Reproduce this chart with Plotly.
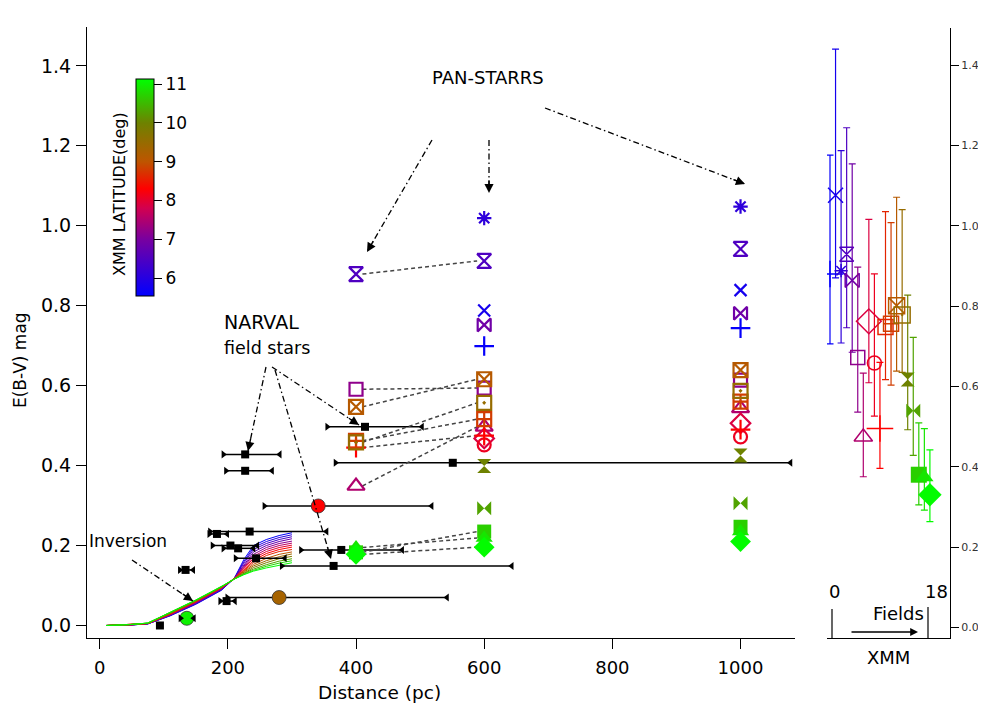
import plotly.graph_objects as go

# The page body adds an 8 px margin; the figure is sized and placed to fill the 986x707 window.
VIEW_W, VIEW_H = 986, 707
OFF = 8
FW, FH = VIEW_W - OFF, VIEW_H - OFF

# ---------------- data ----------------
# 3D-map reddening curves: distance grid (pc) and E(B-V) per XMM-field latitude (deg)
curve_dist = [10, 45, 75, 110, 150, 190, 210, 225, 240, 260, 280, 300]
curve_lat = [5.6, 6.0, 6.4, 6.8, 7.2, 7.6, 8.0, 8.3, 8.6, 9.0, 9.4, 9.8, 10.3, 10.8, 11.1]
ebv_lat56 = [0.000, 0.001, 0.004, 0.024, 0.053, 0.088, 0.118, 0.165, 0.200, 0.215, 0.225, 0.232]
ebv_lat60 = [0.000, 0.001, 0.004, 0.025, 0.054, 0.089, 0.118, 0.160, 0.195, 0.210, 0.220, 0.227]
ebv_lat64 = [0.000, 0.001, 0.004, 0.025, 0.055, 0.090, 0.118, 0.156, 0.190, 0.205, 0.215, 0.222]
ebv_lat68 = [0.000, 0.001, 0.004, 0.026, 0.056, 0.091, 0.118, 0.152, 0.184, 0.200, 0.210, 0.217]
ebv_lat72 = [0.000, 0.001, 0.005, 0.027, 0.057, 0.092, 0.118, 0.148, 0.178, 0.195, 0.205, 0.211]
ebv_lat76 = [0.000, 0.001, 0.005, 0.027, 0.058, 0.093, 0.117, 0.145, 0.173, 0.190, 0.200, 0.206]
ebv_lat80 = [0.000, 0.001, 0.005, 0.028, 0.059, 0.094, 0.117, 0.142, 0.168, 0.185, 0.195, 0.201]
ebv_lat83 = [0.000, 0.002, 0.005, 0.029, 0.060, 0.094, 0.117, 0.139, 0.163, 0.180, 0.190, 0.196]
ebv_lat86 = [0.000, 0.002, 0.005, 0.029, 0.060, 0.095, 0.117, 0.137, 0.158, 0.175, 0.185, 0.190]
ebv_lat90 = [0.000, 0.002, 0.005, 0.030, 0.061, 0.095, 0.117, 0.135, 0.153, 0.168, 0.178, 0.184]
ebv_lat94 = [0.000, 0.002, 0.005, 0.030, 0.061, 0.096, 0.117, 0.133, 0.149, 0.162, 0.172, 0.179]
ebv_lat98 = [0.000, 0.002, 0.006, 0.031, 0.062, 0.096, 0.116, 0.131, 0.145, 0.157, 0.167, 0.173]
ebv_lat103 = [0.000, 0.002, 0.006, 0.032, 0.063, 0.097, 0.116, 0.130, 0.141, 0.152, 0.161, 0.167]
ebv_lat108 = [0.000, 0.002, 0.006, 0.032, 0.063, 0.097, 0.116, 0.128, 0.138, 0.148, 0.156, 0.162]
ebv_lat111 = [0.000, 0.002, 0.006, 0.033, 0.064, 0.098, 0.116, 0.127, 0.136, 0.144, 0.150, 0.157]
curves = [ebv_lat56, ebv_lat60, ebv_lat64, ebv_lat68, ebv_lat72, ebv_lat76, ebv_lat80, ebv_lat83,
          ebv_lat86, ebv_lat90, ebv_lat94, ebv_lat98, ebv_lat103, ebv_lat108, ebv_lat111]

# NARVAL field stars (black)
narval_dist = [94, 134, 183, 198, 204, 216, 227, 227, 234, 244, 365, 377, 414, 551]
narval_ebv = [0.000, 0.139, 0.229, 0.061, 0.200, 0.193, 0.428, 0.387, 0.235, 0.168, 0.149, 0.189, 0.497, 0.407]
narval_err_minus = [0, 9, 12, 10, 28, 23, 34, 30, 62, 32, 81, 63, 59, 183]
narval_err_plus = [0, 12, 16, 13, 42, 24, 54, 42, 120, 45, 278, 95, 89, 527]

# coloured stars (latitude coded)
star_dist = [136, 280, 341]
star_ebv = [0.018, 0.070, 0.299]
star_lat = [11.0, 9.3, 8.3]
star_err_minus = [10, 81, 84]
star_err_plus = [11, 262, 177]

# XMM fields 0..18: latitude, PAN-STARRS E(B-V) at 400/600/1000 pc, XMM E(B-V) with errors
field_index = list(range(19))
field_lat = [5.6, 5.8, 6.1, 6.5, 6.9, 7.2, 7.5, 7.9, 8.1, 8.3, 8.6, 8.8, 9.1, 9.5, 10.0, 10.3, 10.7, 10.9, 11.1]
ebv_400 = [None, None, None, 0.879, None, 0.591, 0.349, None, None, 0.445, None, 0.462, 0.547, 0.458,
           None, None, 0.183, 0.195, 0.178]
ebv_600 = [0.699, 0.788, 1.019, 0.912, 0.752, 0.594, 0.497, 0.468, 0.452, 0.475, None, 0.516, 0.616, 0.557,
           0.399, 0.293, 0.235, 0.219, 0.196]
ebv_1000 = [0.744, 0.839, 1.048, 0.942, 0.781, 0.614, 0.543, 0.506, 0.472, 0.490, None, 0.560, 0.639, 0.587,
            0.425, 0.306, 0.247, 0.235, 0.210]
xmm_ebv = [0.880, 1.076, 0.888, 0.929, 0.864, 0.672, 0.474, 0.762, 0.658, 0.495, 0.748, 0.756, 0.801, 0.778,
           0.617, 0.539, 0.380, 0.374, 0.330]
xmm_hi = [1.176, 1.440, 1.187, 1.244, 1.154, 0.897, 0.633, 1.016, 0.880, 0.660, 1.035, 1.008, 1.071, 1.040,
          0.827, 0.722, 0.509, 0.495, 0.442]
xmm_lo = [0.706, 0.870, 0.708, 0.746, 0.685, 0.536, 0.375, 0.609, 0.526, 0.396, 0.617, 0.603, 0.638, 0.635,
          0.492, 0.428, 0.305, 0.292, 0.263]

x_ticks = [0, 200, 400, 600, 800, 1000]
y_ticks = [0.0, 0.2, 0.4, 0.6, 0.8, 1.0, 1.2, 1.4]
y_ticktext = ['0.0', '0.2', '0.4', '0.6', '0.8', '1.0', '1.2', '1.4']
cbar_ticks = [6, 7, 8, 9, 10, 11]

# ---------------- styles ----------------
field_symbol = ['cross-thin-open', 'x-thin-open', 'asterisk-open', 'hourglass-open', 'bowtie-open',
                'square-open', 'triangle-up-open', 'diamond-open', 'circle-open', 'cross-thin-open',
                'square-open', 'square-cross-open', 'square-x-open', 'square-open-dot', 'hourglass',
                'bowtie', 'square', 'triangle-up', 'diamond']
ps_size = [14, 12, 12, 14, 13, 13, 15, 15, 13, 14, 13, 14, 14, 14, 14, 14, 14, 15, 16]
xmm_size = [19, 15, 11, 14, 14, 14, 16, 19, 14, 19, 15, 15, 16, 16, 14, 14, 16, 16, 18]

LAT_MIN, LAT_MAX = 5.54, 11.13
scale_lats = [5.54, 7.0, 7.8, 8.3, 9.0, 10.0, 11.13]
scale_rgb = [(0, 0, 255), (120, 0, 160), (210, 0, 80), (255, 0, 0), (190, 85, 0), (110, 130, 0), (0, 255, 0)]
colorscale = [[(l - LAT_MIN) / (LAT_MAX - LAT_MIN), 'rgb(%d,%d,%d)' % c] for l, c in zip(scale_lats, scale_rgb)]


def lat_color(lat):
    lat = min(max(lat, scale_lats[0]), scale_lats[-1])
    for i in range(len(scale_lats) - 1):
        a, b = scale_lats[i], scale_lats[i + 1]
        if a <= lat <= b:
            t = (lat - a) / (b - a)
            c = [round(scale_rgb[i][k] + t * (scale_rgb[i + 1][k] - scale_rgb[i][k])) for k in range(3)]
            return 'rgb(%d,%d,%d)' % tuple(c)
    return 'rgb(0,255,0)'


def is_open(sym):
    return 'open' in sym


# window pixel -> paper fraction
def PX(xp):
    return (xp - OFF) / FW


def PY(yp):
    return 1 - (yp - OFF) / FH


def P(xp, yp):
    return PX(xp), PY(yp)


FONT = 'DejaVu Sans'
fig = go.Figure()

# reddening curves (blue first, green on top)
for lat, vals in zip(curve_lat, curves):
    fig.add_trace(go.Scatter(x=curve_dist, y=vals, mode='lines',
                             line=dict(color=lat_color(lat), width=1), hoverinfo='skip',
                             xaxis='x', yaxis='y'))

# NARVAL error bars + squares
fig.add_trace(go.Scatter(
    x=narval_dist, y=narval_ebv, mode='markers',
    marker=dict(symbol='square', size=8, color='black', opacity=1),
    error_x=dict(type='data', symmetric=False, array=narval_err_plus, arrayminus=narval_err_minus,
                 color='black', thickness=1.5, width=0),
    xaxis='x', yaxis='y'))
# coloured stars with black error bars
fig.add_trace(go.Scatter(
    x=star_dist, y=star_ebv, mode='markers',
    marker=dict(symbol='circle', size=14, color=[lat_color(l) for l in star_lat], opacity=1,
                line=dict(color='#333', width=0.8)),
    error_x=dict(type='data', symmetric=False, array=star_err_plus, arrayminus=star_err_minus,
                 color='black', thickness=1.5, width=0),
    xaxis='x', yaxis='y'))

# triangular caps of the horizontal error bars
all_d = narval_dist + star_dist
all_e = narval_ebv + star_ebv
all_m = narval_err_minus + star_err_minus
all_p = narval_err_plus + star_err_plus
fig.add_trace(go.Scatter(x=[d - m for d, m in zip(all_d, all_m) if m > 0],
                         y=[e for e, m in zip(all_e, all_m) if m > 0], mode='markers',
                         marker=dict(symbol='triangle-right', size=7, color='black', opacity=1),
                         xaxis='x', yaxis='y'))
fig.add_trace(go.Scatter(x=[d + p for d, p in zip(all_d, all_p) if p > 0],
                         y=[e for e, p in zip(all_e, all_p) if p > 0], mode='markers',
                         marker=dict(symbol='triangle-left', size=7, color='black', opacity=1),
                         xaxis='x', yaxis='y'))

# dashed connectors between 400 pc and 600 pc PAN-STARRS values
cx, cy = [], []
for a, b in zip(ebv_400, ebv_600):
    if a is not None and b is not None:
        cx += [400 + 10, 600 - 11, None]
        cy += [a, b, None]
fig.add_trace(go.Scatter(x=cx, y=cy, mode='lines', line=dict(color='#444', width=1.5, dash='4px,3px'),
                         hoverinfo='skip', xaxis='x', yaxis='y'))

# PAN-STARRS markers
line_w_ps = [2.2 if is_open(s) else 0 for s in field_symbol]
for dist, vals in [(400, ebv_400), (600, ebv_600), (1000, ebv_1000)]:
    idx = [i for i, v in enumerate(vals) if v is not None]
    fig.add_trace(go.Scatter(
        x=[dist] * len(idx), y=[vals[i] for i in idx], mode='markers',
        marker=dict(symbol=[field_symbol[i] for i in idx], size=[ps_size[i] for i in idx],
                    color=[field_lat[i] for i in idx], coloraxis='coloraxis', opacity=1,
                    line=dict(width=[line_w_ps[i] for i in idx])),
        xaxis='x', yaxis='y'))

# XMM panel
for i in field_index:
    col = lat_color(field_lat[i])
    sym = field_symbol[i]
    fig.add_trace(go.Scatter(
        x=[i], y=[xmm_ebv[i]], mode='markers',
        marker=dict(symbol=sym, size=xmm_size[i], color=col, opacity=1,
                    line=dict(color=col, width=1.5 if is_open(sym) else 0)),
        error_y=dict(type='data', symmetric=False, array=[xmm_hi[i] - xmm_ebv[i]],
                     arrayminus=[xmm_ebv[i] - xmm_lo[i]], color=col, thickness=1.2, width=3.5),
        xaxis='x2', yaxis='y2'))

# ---------------- annotations ----------------
annotations = []
shapes = []


def text(xp, yp, s, size, xanchor='center', angle=0):
    x, y = P(xp, yp)
    annotations.append(dict(x=x, y=y, xref='paper', yref='paper', text=s, showarrow=False,
                            xanchor=xanchor, yanchor='middle', textangle=angle,
                            font=dict(family=FONT, size=size, color='black')))


def arrow(tail, tip, dash='6px,3px,1.5px,3px'):
    x0, y0 = P(*tail)
    x1, y1 = P(*tip)
    shapes.append(dict(type='line', xref='paper', yref='paper', x0=x0, y0=y0, x1=x1, y1=y1,
                       line=dict(color='black', width=1.3, dash=dash)))
    dx, dy = tail[0] - tip[0], tail[1] - tip[1]
    L = (dx * dx + dy * dy) ** 0.5
    annotations.append(dict(x=x1, y=y1, xref='paper', yref='paper', text='', showarrow=True,
                            ax=dx / L * 14, ay=dy / L * 14, arrowhead=2, arrowsize=1.3,
                            arrowwidth=1.4, arrowcolor='black', standoff=0))


text(488, 77, 'PAN-STARRS', 18)
arrow((432, 140), (367, 252))
arrow((489, 140), (489, 193))
arrow((545, 108), (745, 184))

text(222, 322, 'NARVAL', 19, xanchor='left')
text(222, 348, 'field stars', 17.5, xanchor='left')
arrow((266, 367), (248, 451))
arrow((272, 367), (359, 425))
arrow((275, 370), (331, 559))

text(87, 541, 'Inversion', 17, xanchor='left')
arrow((132, 560), (193, 601))

text(20, 360, 'E(B-V) mag', 17, angle=-90)
text(379, 692, 'Distance (pc)', 18.5)
text(119, 194, 'XMM LATITUDE(deg)', 16, angle=-90)

# XMM field index indicator
text(834, 591, '0', 18)
text(936, 591, '18', 18)
text(898, 613, 'Fields', 18)
text(888, 657, 'XMM', 18)
for xp, ytop in [(832, 609), (928, 607)]:
    shapes.append(dict(type='line', xref='paper', yref='paper', x0=PX(xp), y0=PY(ytop), x1=PX(xp),
                       y1=PY(638), line=dict(color='black', width=1.2)))
annotations.append(dict(x=PX(918), y=PY(632), xref='paper', yref='paper', text='', showarrow=True,
                        ax=-68, ay=0, arrowhead=2, arrowsize=1.2, arrowwidth=1.3,
                        arrowcolor='black', standoff=0))

axis_common = dict(showgrid=False, zeroline=False, automargin=False, showline=True,
                   linecolor='black', linewidth=1, tickcolor='black')

fig.update_layout(
    width=FW, height=FH, margin=dict(l=0, r=0, t=0, b=0, autoexpand=False),
    paper_bgcolor='white', plot_bgcolor='white', showlegend=False,
    font=dict(family=FONT, color='black'),
    xaxis=dict(domain=[PX(87), PX(795)], range=[-19.8, 1085], anchor='y',
               ticks='outside', ticklen=10, tickvals=x_ticks, tickfont=dict(size=18),
               ticklabelstandoff=3, **axis_common),
    yaxis=dict(domain=[PY(638), PY(27)], range=[-0.0313, 1.4972], anchor='x',
               ticks='outside', ticklen=10, tickvals=y_ticks, ticktext=y_ticktext,
               tickfont=dict(size=19), ticklabelstandoff=1, **axis_common),
    xaxis2=dict(domain=[PX(827), PX(950)], range=[-0.54, 21.62], anchor='y2',
                showticklabels=False, ticks='', **axis_common),
    yaxis2=dict(domain=[PY(638), PY(28)], range=[-0.0266, 1.4924], anchor='x2', side='right',
                ticks='outside', ticklen=8, tickvals=y_ticks, ticktext=y_ticktext,
                tickfont=dict(size=11, color='#333'), **axis_common),
    coloraxis=dict(colorscale=colorscale, cmin=LAT_MIN, cmax=LAT_MAX,
                   colorbar=dict(x=PX(136), xanchor='left', xpad=0, y=PY(187.5), yanchor='middle',
                                 ypad=0, len=217, lenmode='pixels', thickness=18, thicknessmode='pixels',
                                 outlinewidth=1, outlinecolor='black', ticks='outside', ticklen=8,
                                 tickcolor='black', tickvals=cbar_ticks,
                                 tickfont=dict(size=17, family=FONT), title=dict(text=''))),
    annotations=annotations, shapes=shapes,
)

fig.write_html('out.html')
